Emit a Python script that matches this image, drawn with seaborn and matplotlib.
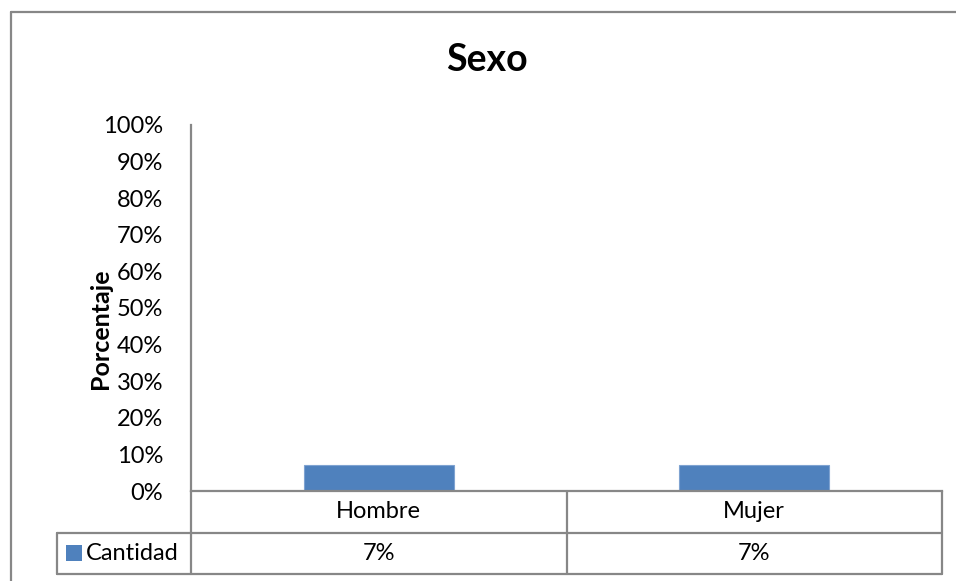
import matplotlib
matplotlib.use("Agg")
import matplotlib.pyplot as plt
import matplotlib.transforms as mtransforms
from matplotlib.lines import Line2D
from matplotlib.patches import Rectangle
import seaborn as sns
import pandas as pd

# Data
categories = ["Hombre", "Mujer"]
values = [7, 7]  # percent
series_name = "Cantidad"
y_ticks = list(range(0, 101, 10))
title = "Sexo"
y_label = "Porcentaje"

sns.set_theme(style="white")
plt.rcParams["font.family"] = ["Lato", "DejaVu Sans"]

W, H = 956, 581
DPI = 100
fig = plt.figure(figsize=(W / DPI, H / DPI), dpi=DPI)

def fx(px):
    return px / W

def fy(py):
    return 1 - py / H

BAR = "#4F81BD"
GRID = "#878787"
FS = 17

# plot area in pixel coordinates
x0, x1 = 191, 942
y_top, y_zero = 125, 491
ax = fig.add_axes([fx(x0), fy(y_zero), fx(x1) - fx(x0), fy(y_top) - fy(y_zero)])

df = pd.DataFrame({"Sexo": categories, series_name: values})
sns.barplot(data=df, x="Sexo", y=series_name, order=categories, color=BAR,
            saturation=1, width=0.4, edgecolor="#7FA3D1", linewidth=0.8, ax=ax)

ax.set_xlim(-0.5, len(categories) - 0.5)
ax.set_ylim(0, 100)
ax.set_yticks(y_ticks)
ax.set_yticklabels([f"{t}%" for t in y_ticks], fontsize=FS, color="black")
ax.set_xticks([])
ax.set_xlabel("")
ax.set_ylabel("")
ax.tick_params(axis="y", length=0, pad=20)
for s in ["top", "right"]:
    ax.spines[s].set_visible(False)
for s in ["left", "bottom"]:
    ax.spines[s].set_color(GRID)
    ax.spines[s].set_linewidth(1.6)

fig.text(fx(487), fy(60), title, ha="center", va="center",
         fontsize=27, fontweight="bold", color="black")
fig.text(fx(101), fy(329), y_label, ha="center", va="center", rotation=90,
         fontsize=18, fontweight="bold", color="black")

# data table under the axis
row1_bottom, row2_bottom = 533, 574
table_left = 57
lw = 1.6
lines = [
    ((table_left, x1), (row1_bottom, row1_bottom)),
    ((table_left, x1), (row2_bottom, row2_bottom)),
    ((table_left, table_left), (row1_bottom, row2_bottom)),
    ((x0, x0), (y_zero, row2_bottom)),
    ((x1, x1), (y_zero, row2_bottom)),
]
# category dividers from data positions
blend = mtransforms.blended_transform_factory(ax.transData, fig.transFigure)
for i in range(len(categories) - 1):
    ax.add_line(Line2D([i + 0.5, i + 0.5], [fy(y_zero), fy(row2_bottom)],
                       transform=blend, color=GRID, lw=lw, clip_on=False))
for (xs, ys) in lines:
    fig.add_artist(Line2D([fx(xs[0]), fx(xs[1])], [fy(ys[0]), fy(ys[1])],
                          color=GRID, lw=lw))

for i, (cat, val) in enumerate(zip(categories, values)):
    ax.text(i, fy((y_zero + row1_bottom) / 2), cat, transform=blend,
            ha="center", va="center", fontsize=FS, color="black", clip_on=False)
    ax.text(i, fy((row1_bottom + row2_bottom) / 2), f"{val}%", transform=blend,
            ha="center", va="center", fontsize=FS, color="black", clip_on=False)

# legend key and series name
fig.add_artist(Rectangle((fx(66), fy(561)), fx(82) - fx(66), fy(545) - fy(561),
                         facecolor=BAR, edgecolor="none"))
fig.text(fx(86), fy(553), series_name, ha="left", va="center",
         fontsize=FS, color="black")

# chart frame
fig.add_artist(Line2D([fx(11), 1], [fy(12), fy(12)], color=GRID, lw=1.6))
fig.add_artist(Line2D([fx(11), fx(11)], [fy(12), 0], color=GRID, lw=1.6))

fig.savefig("out.png", dpi=DPI)
